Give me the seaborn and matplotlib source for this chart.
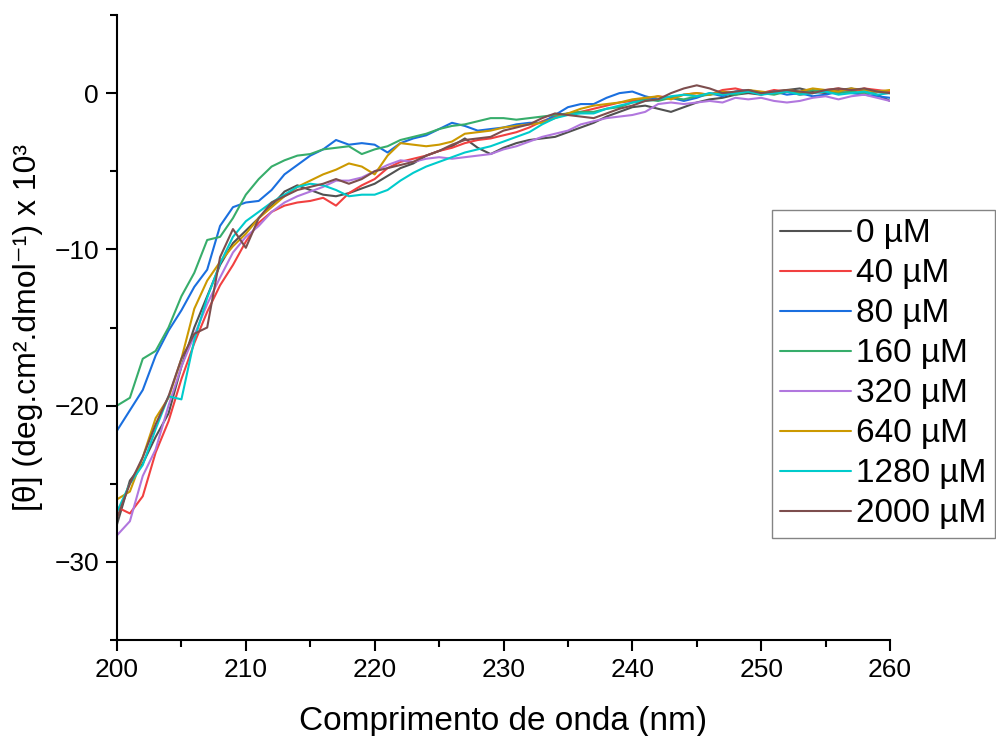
import numpy as np
import pandas as pd
import matplotlib
matplotlib.use("Agg")
import matplotlib.pyplot as plt
from matplotlib.ticker import MultipleLocator
import seaborn as sns

wavelength = list(range(200, 261))

s0 = [-27.6, -24.8, -23.7, -22.0, -20.5, -17.5, -15.0, -13.0, -11.0, -9.6,
      -8.8, -8.0, -7.2, -6.3, -5.9, -6.2, -6.5, -6.6, -6.4, -6.1,
      -5.8, -5.3, -4.8, -4.5, -4.0, -3.7, -3.4, -2.9, -3.5, -3.9,
      -3.5, -3.2, -3.0, -2.9, -2.8, -2.5, -2.2, -1.9, -1.5, -1.2,
      -0.9, -0.8, -1.0, -1.2, -0.9, -0.6, -0.4, -0.3, -0.1, 0.0,
      -0.1, 0.1, 0.2, 0.3, 0.1, 0.0, 0.2, 0.3, 0.1, -0.1, -0.5]
s40 = [-26.5, -26.9, -25.8, -23.0, -21.0, -18.3, -16.0, -14.0, -12.3, -11.0,
       -9.5, -8.3, -7.6, -7.2, -7.0, -6.9, -6.7, -7.2, -6.4, -5.9,
       -5.5, -4.8, -4.4, -4.2, -4.0, -3.7, -3.5, -3.2, -3.0, -2.9,
       -2.7, -2.5, -2.2, -1.8, -1.5, -1.3, -1.2, -1.0, -0.8, -0.6,
       -0.5, -0.4, -0.2, -0.3, -0.1, 0.0, -0.1, 0.2, 0.3, 0.1,
       0.0, 0.2, 0.1, -0.1, 0.0, 0.2, 0.3, 0.1, 0.3, 0.2, 0.1]
s80 = [-21.6, -20.3, -19.0, -16.8, -15.2, -13.9, -12.4, -11.3, -8.5, -7.3,
       -7.0, -6.9, -6.2, -5.2, -4.6, -4.0, -3.6, -3.0, -3.3, -3.2,
       -3.3, -3.8, -3.2, -2.9, -2.7, -2.3, -1.9, -2.1, -2.4, -2.3,
       -2.2, -2.0, -1.9, -1.9, -1.4, -0.9, -0.7, -0.7, -0.3, 0.0,
       0.1, -0.2, -0.4, -0.3, -0.5, -0.3, 0.0, -0.2, 0.1, 0.2,
       0.0, 0.1, -0.1, 0.0, -0.2, -0.1, 0.1, 0.0, -0.1, -0.2, -0.3]
s160 = [-20.0, -19.5, -17.0, -16.5, -15.0, -13.0, -11.5, -9.4, -9.2, -8.0,
        -6.5, -5.5, -4.7, -4.3, -4.0, -3.9, -3.6, -3.5, -3.4, -3.9,
        -3.6, -3.4, -3.0, -2.8, -2.6, -2.3, -2.1, -2.0, -1.8, -1.6,
        -1.6, -1.7, -1.6, -1.5, -1.4, -1.3, -1.2, -1.2, -1.0, -0.9,
        -0.6, -0.4, -0.5, -0.3, -0.4, -0.2, -0.1, 0.0, -0.1, 0.1,
        0.0, -0.1, 0.1, 0.0, 0.2, 0.1, 0.0, 0.1, 0.0, 0.1, 0.0]
s320 = [-28.3, -27.4, -24.5, -22.8, -20.0, -17.5, -15.5, -13.5, -11.8, -10.2,
        -9.2, -8.5, -7.6, -7.0, -6.6, -6.3, -6.0, -5.6, -5.6, -5.4,
        -5.0, -4.6, -4.3, -4.4, -4.2, -4.1, -4.2, -4.1, -4.0, -3.9,
        -3.6, -3.4, -3.1, -2.8, -2.6, -2.4, -2.0, -1.8, -1.6, -1.5,
        -1.4, -1.2, -0.7, -0.6, -0.7, -0.6, -0.5, -0.6, -0.3, -0.4,
        -0.3, -0.5, -0.6, -0.5, -0.3, -0.2, -0.4, -0.2, -0.1, -0.3, -0.5]
s640 = [-26.0, -25.5, -23.3, -20.8, -19.5, -17.0, -13.8, -12.0, -10.8, -9.8,
        -9.0, -8.0, -7.3, -6.6, -6.0, -5.6, -5.2, -4.9, -4.5, -4.7,
        -5.2, -4.0, -3.2, -3.3, -3.4, -3.3, -3.1, -2.6, -2.5, -2.4,
        -2.2, -2.1, -2.0, -1.9, -1.6, -1.3, -1.0, -0.8, -0.7, -0.6,
        -0.4, -0.3, -0.2, -0.4, -0.1, 0.0, -0.1, 0.1, 0.0, 0.2,
        0.1, 0.0, 0.2, 0.1, 0.3, 0.2, 0.1, 0.3, 0.2, 0.1, 0.2]
s1280 = [-26.8, -25.0, -23.8, -21.5, -19.4, -19.6, -15.8, -13.1, -10.9, -9.2,
         -8.2, -7.6, -7.0, -6.5, -6.0, -5.8, -5.9, -6.2, -6.6, -6.5,
         -6.5, -6.2, -5.6, -5.1, -4.7, -4.4, -4.1, -3.8, -3.6, -3.4,
         -3.1, -2.8, -2.5, -2.0, -1.6, -1.4, -1.3, -1.3, -1.0, -0.8,
         -0.6, -0.5, -0.4, -0.2, -0.1, -0.2, 0.0, -0.1, 0.0, 0.1,
         -0.1, 0.0, 0.1, -0.1, 0.0, 0.1, -0.1, 0.0, 0.1, -0.1, 0.0]
s2000 = [-27.2, -25.0, -23.3, -21.2, -19.4, -17.0, -15.4, -15.0, -10.5, -8.7,
         -9.9, -8.0, -7.0, -6.6, -6.2, -6.0, -5.8, -5.5, -5.8, -5.5,
         -5.0, -4.8, -4.6, -4.4, -4.0, -3.7, -3.3, -3.0, -2.9, -2.8,
         -2.4, -2.2, -2.0, -1.6, -1.3, -1.4, -1.5, -1.6, -1.3, -1.0,
         -0.8, -0.5, -0.4, 0.0, 0.3, 0.5, 0.3, 0.0, 0.1, 0.2,
         0.0, 0.1, 0.2, 0.1, 0.0, 0.2, 0.3, 0.2, 0.3, 0.1, 0.0]

labels = ["0 µM", "40 µM", "80 µM", "160 µM", "320 µM", "640 µM", "1280 µM", "2000 µM"]
series = [s0, s40, s80, s160, s320, s640, s1280, s2000]
colors = ["#515151", "#F14040", "#1A6FDF", "#37AD6B", "#B177DE", "#CC9900", "#00CBCC", "#7D4E4E"]

rows = []
for lab, vals in zip(labels, series):
    for w, v in zip(wavelength, vals):
        rows.append({"wl": w, "theta": v, "conc": lab})
df = pd.DataFrame(rows)

sns.set_theme(style="ticks")
plt.rcParams["font.family"] = ["Liberation Sans", "DejaVu Sans"]
for k in ["text.color", "axes.labelcolor", "xtick.color", "ytick.color", "axes.edgecolor"]:
    plt.rcParams[k] = "black"

fig = plt.figure(figsize=(9.96, 7.36), dpi=100)
ax = fig.add_axes([117/996, 1-640/736, (890-117)/996, (640-15)/736])

sns.lineplot(data=df, x="wl", y="theta", hue="conc", hue_order=labels,
             palette=colors, linewidth=1.5, ax=ax, legend=False, estimator=None)

ax.set_xlim(200, 260)
ax.set_ylim(-35, 5)
ax.xaxis.set_major_locator(MultipleLocator(10))
ax.xaxis.set_minor_locator(MultipleLocator(5))
ax.yaxis.set_major_locator(MultipleLocator(10))
ax.yaxis.set_minor_locator(MultipleLocator(5))
ax.tick_params(which="major", direction="out", length=8, width=1.5, labelsize=19, pad=5, color="black")
ax.tick_params(which="minor", direction="out", length=5, width=1.5, color="black")
for s in ["top", "right"]:
    ax.spines[s].set_visible(False)
for s in ["left", "bottom"]:
    ax.spines[s].set_linewidth(1.5)
    ax.spines[s].set_color("black")

ax.set_xlabel("Comprimento de onda (nm)", fontsize=24, labelpad=17)
ax.set_ylabel("[θ] (deg.cm².dmol⁻¹) x 10³", fontsize=23, labelpad=8)

handles = [plt.Line2D([], [], color=c, lw=1.5) for c in colors]
leg = fig.legend(handles, labels, loc="upper left", bbox_to_anchor=(772/996, 1-210/736),
                 fontsize=24, frameon=True, fancybox=False, handlelength=2.13,
                 handletextpad=0.15, labelspacing=0.27, borderpad=0.25, borderaxespad=0)
leg.get_frame().set_edgecolor("#666666")
leg.get_frame().set_linewidth(1.0)

fig.savefig("out.png", dpi=100)
